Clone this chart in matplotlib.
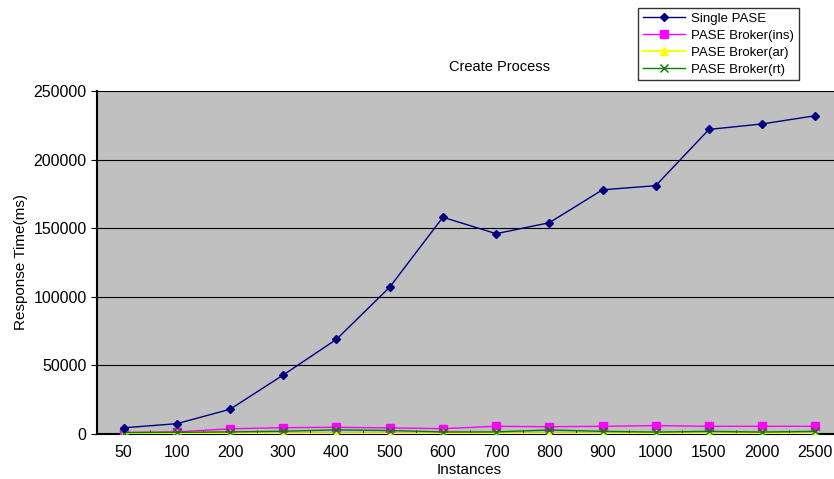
import numpy as np
import matplotlib.pyplot as plt

instances = ['50', '100', '200', '300', '400', '500', '600', '700',
             '800', '900', '1000', '1500', '2000', '2500']
single_pase = [4500, 7500, 18000, 43000, 69000, 107000, 158000, 146000,
               154000, 178000, 181000, 222000, 226000, 232000]
broker_ins = [1000, 1500, 3800, 4600, 4900, 4400, 3900, 5600,
              5300, 5600, 6100, 5600, 5600, 5600]
broker_ar = [300, 300, 300, 300, 300, 300, 300, 300,
             300, 300, 300, 300, 300, 300]
broker_rt = [1000, 1200, 1500, 2000, 3000, 2500, 1500, 1500,
             2900, 1900, 1400, 1900, 1400, 1900]

plt.rcParams['font.family'] = ['Liberation Sans', 'DejaVu Sans']

fig = plt.figure(figsize=(8.34, 4.79), dpi=100)
ax = fig.add_axes([0.1163, 0.094, 0.8933, 0.716])
ax.set_facecolor('#C0C0C0')

x = np.arange(len(instances))
ax.plot(x, single_pase, color='#000080', marker='D', markersize=4.5, lw=1,
        label='Single PASE', zorder=5)
ax.plot(x, broker_ins, color='#FF00FF', marker='s', markersize=6, lw=1,
        label='PASE Broker(ins)', zorder=4)
ax.plot(x, broker_ar, color='#FFFF00', marker='^', markersize=6, lw=1.5,
        label='PASE Broker(ar)', zorder=4)
ax.plot(x, broker_rt, color='#008000', marker='x', markersize=6, lw=1,
        label='PASE Broker(rt)', zorder=4)

ax.set_xlim(-0.5, len(instances) - 0.5)
ax.set_ylim(0, 250000)
ax.set_xticks(x)
ax.set_xticklabels(instances)
ax.set_xticks(np.arange(0.5, len(instances) - 0.5), minor=True)
ax.tick_params(axis='x', which='major', length=0, labelsize=11.5, pad=8)
ax.tick_params(axis='x', which='minor', direction='in', length=3, color='black')
ax.set_yticks(np.arange(0, 250001, 50000))
ax.tick_params(axis='y', length=4, direction='out', labelsize=11.5)
ax.yaxis.grid(True, color='black', lw=0.8)
ax.set_axisbelow(True)

for s in ['top', 'right']:
    ax.spines[s].set_visible(False)
ax.spines['left'].set_linewidth(1.5)
ax.spines['bottom'].set_linewidth(1.5)

ax.set_xlabel('Instances', fontsize=11, labelpad=2)
ax.set_ylabel('Response Time(ms)', fontsize=11)
fig.text(0.599, 0.86, 'Create Process', ha='center', va='center', fontsize=10.5)

leg = fig.legend(loc='upper left', bbox_to_anchor=(0.765, 0.983), fontsize=9.5,
                 frameon=True, fancybox=False, edgecolor='black',
                 handlelength=3.2, labelspacing=0.35, borderpad=0.35,
                 handletextpad=0.5, borderaxespad=0)
leg.get_frame().set_linewidth(1)

fig.savefig('out.png', dpi=100)
